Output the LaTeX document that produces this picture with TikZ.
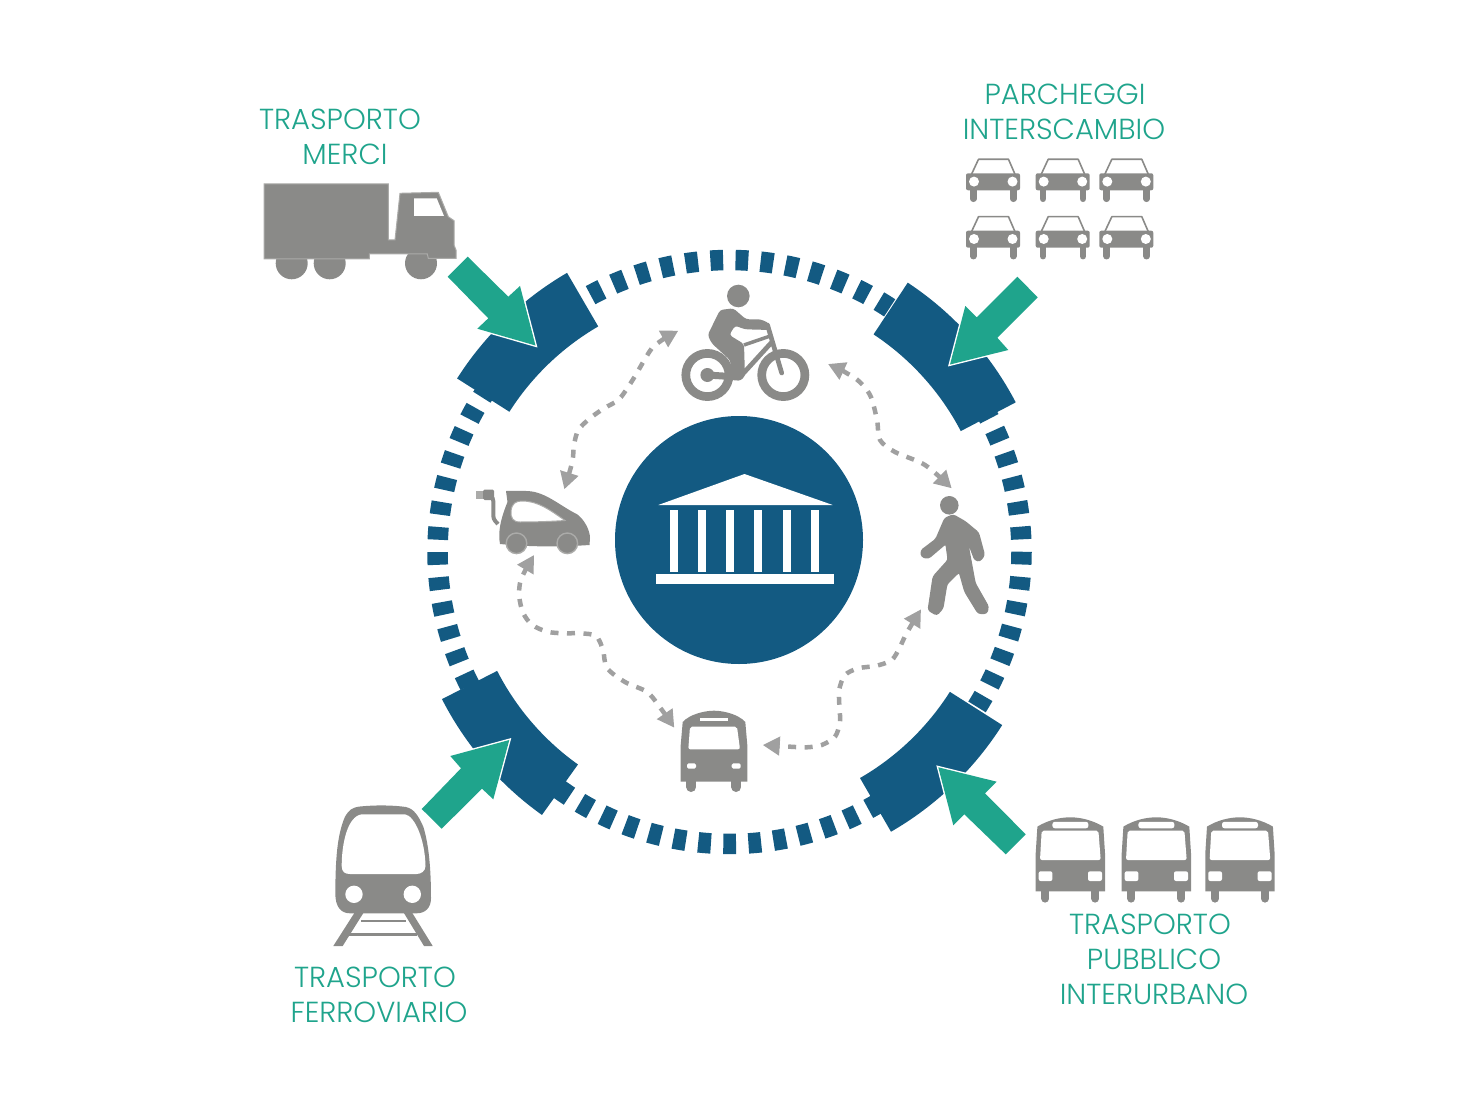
\documentclass[tikz,border=0pt]{standalone}
\usepackage{fontspec}
\setmainfont{Poppins}[UprightFont=* Light]
\usetikzlibrary{arrows.meta}
\definecolor{ringblue}{HTML}{135A82}
\definecolor{arrowteal}{HTML}{1FA48C}
\definecolor{icongray}{HTML}{8A8A88}
\definecolor{iconedge}{HTML}{ABABA9}
\definecolor{linkgray}{HTML}{A0A0A0}
\tikzset{
  modetext/.style={text=arrowteal,font=\fontsize{29}{29}\selectfont,inner sep=0pt},
  inarrow/.style={fill=arrowteal,preaction={draw=white,line width=2.8pt,miter limit=8}},
  swaplink/.style={draw=linkgray,line width=4.5pt,dash pattern=on 8pt off 8.5pt,
    {Triangle[length=17pt,width=18pt]}-{Triangle[length=17pt,width=18pt]}},
  pics/carfront/.style={code={
    \draw[icongray,line width=1.6pt,line join=round] (5.5,16) -- (12.5,1) -- (42.5,1) -- (49,16);
    \fill[icongray,rounded corners=2pt] (0,15) rectangle (54,32);
    \draw[icongray,line width=6.5pt,line cap=round] (7.3,30) -- (7.3,40.5) (47.3,30) -- (47.3,40.5);
    \fill[white] (8,23.3) circle (5) (46.5,23.3) circle (5);
  }},
  pics/coach/.style={code={
    \fill[icongray] (0,74) -- (0,36) -- (1.7,9.3) .. controls (12,3) and (24,0) .. (34.6,0)
      .. controls (45,0) and (57,3) .. (67.6,9.3) -- (69.3,36) -- (69.3,74) -- cycle;
    \draw[icongray,line width=8pt,line cap=round] (9.7,72) -- (9.7,81.3) (59.7,72) -- (59.7,81.3);
    \fill[white,rounded corners=2.5pt] (16.7,4.5) rectangle (52.7,11);
    \fill[white,rounded corners=2pt] (6,13.3) -- (62.7,13.3) -- (65,42.7) -- (4.3,42.7) -- cycle;
    \fill[white,rounded corners=2pt] (3,54) rectangle (16.7,63.7) (52.3,54) rectangle (66.3,63.7);
  }},
}
\begin{document}
\begin{tikzpicture}[x=1pt,y=-1pt]
\useasboundingbox (0,0) rectangle (1476,1110);

% ring
\begin{scope}[shift={(729.5,552)},y=1pt]
\foreach \k in {0,...,72}
  \draw[ringblue,line width=20.5pt] ({\k*4.9315+91.25}:292) arc[start angle={\k*4.9315+91.25},delta angle=2.5,radius=292];
\foreach \a/\b in {120.2/147.5,27.6/56.5,300/327.6,207.1/234.5}
  \fill[ringblue] (\a:261) arc[start angle=\a,end angle=\b,radius=261] -- (\b:323) arc[start angle=\b,end angle=\a,radius=323] -- cycle;
\end{scope}

% centre
\node[circle,fill=ringblue,minimum size=248pt,inner sep=0pt] (cityhall) at (739,540) {};
\fill[white] (658.3,505) -- (744.5,474) -- (832.7,505) -- cycle;
\foreach \x in {670,698,726.3,754.3,782.7,811}
  \fill[white] (\x,510) rectangle (\x+7.8,571.7);
\fill[white] (656,574.3) rectangle (834,584.3);

% block arrows
\fill[inarrow] (467.7,256.7) -- (508.3,296.7) -- (520,286) -- (535.5,345.5) -- (477.3,328.7) -- (488.3,318.3) -- (447.7,276.7) -- cycle;
\fill[inarrow] (1017.3,276.7) -- (1037.7,297.3) -- (997.3,337.7) -- (1008.3,350) -- (950,364.5) -- (965.3,306) -- (976.7,317.3) -- cycle;
\fill[inarrow] (421.7,809) -- (441.7,828.7) -- (482,788.7) -- (493.3,799.3) -- (509.3,740) -- (450.3,756) -- (461,768.3) -- cycle;
\fill[inarrow] (1025.7,834.3) -- (1005.7,854.3) -- (964.3,814.3) -- (953.3,825.3) -- (938.3,767.3) -- (996.7,781.7) -- (985,793.3) -- cycle;

% truck
\fill[icongray] (291.7,263.3) circle (16) (329.7,263.3) circle (16) (421,263.3) circle (16);
\draw[fill=icongray,draw=iconedge,line width=1pt] (264,184) -- (388.3,184) -- (388.3,240) -- (395,240) -- (400,193.3) -- (438.3,192.3) -- (448.3,216.7) -- (454,220.7) -- (454,245) -- (456,250) -- (456,258.3) -- (428.3,258.3) -- (427.3,254) -- (369.3,254) -- (369.3,259) -- (264,259) -- cycle;
\fill[white] (414,198.3) -- (436.7,198.3) -- (444,216) -- (414,216) -- cycle;

% parked cars
\foreach \x in {966,1035.7,1099.3}
  \foreach \y in {158.3,215.7}
    \pic at (\x,\y) {carfront};

% coaches
\foreach \x in {1035.7,1121.7,1205.3}
  \pic at (\x,817.3) {coach};

% train
\fill[icongray] (355,912) -- (364,912) -- (342.7,946) -- (333.3,946) -- cycle;
\fill[icongray] (403.3,912) -- (411.7,912) -- (432.7,946) -- (424,946) -- cycle;
\draw[icongray,line width=1.8pt] (361,920.7) -- (406,920.7);
\draw[icongray,line width=3pt] (349,934.3) -- (417,934.3);
\fill[icongray] (335.3,893.3) .. controls (335.5,860) and (337,835) .. (345,816.7) .. controls (349,810) and (352,807.5) .. (360,806.5) .. controls (375,805) and (392,805) .. (406,807) .. controls (414,809) and (418,815) .. (423.3,826.7) .. controls (429,845) and (431,870) .. (431,898.3) .. controls (431,908) and (425,913.3) .. (416.7,913.3) -- (350,913.3) .. controls (341,913.3) and (335.3,907) .. cycle;
\fill[white] (362,814.3) -- (405,814.3) .. controls (415,816) and (425,840) .. (425.5,866) .. controls (425.5,871) and (421,874) .. (416.7,874) -- (350,874) .. controls (345,874) and (341.7,872) .. (341.7,866) .. controls (341.7,845) and (347,816) .. cycle;
\fill[white] (354,894.3) circle (8.7) (412.3,894.3) circle (8.7);

% bicycle
\draw[icongray,line width=8.7pt] (707.4,375) circle (21.6) (783.3,375) circle (21.6);
\fill[icongray] (738.3,296) circle (11.3) (707.4,375) circle (7);
\fill[icongray,rounded corners=3pt] (720,310) -- (733.3,308.3) -- (746,319.3) -- (760.7,319.3) -- (769.3,323.3) -- (770,330) -- (745,329.3) -- (735,325.7) -- (729.3,335) -- (744,344) -- (745,376.7) -- (738.3,381.7) -- (732.7,376.7) -- (730,360) -- (711.7,343.3) -- (707.7,335) -- cycle;
\draw[icongray,line width=4.7pt,line cap=round] (767.5,325) -- (781.7,373) (771,343) -- (740,377);
\draw[icongray,line width=3.5pt] (744,345) -- (771.7,335.5);
\draw[icongray,line width=7pt] (707.4,375) -- (738,377);

% walker
\fill[icongray] (949.3,505.3) circle (9.3);
\filldraw[icongray,line width=1.5pt,line join=round,rounded corners=2.5pt] (945,518.3) -- (953.3,515) -- (965,521.7) -- (978.3,532.7) -- (984.3,555) -- (980,561) -- (975,560) -- (966.7,538.3) -- (975,583.3) -- (988.3,606.7) -- (986.7,613.3) -- (978.3,613.3) -- (965,591.7) -- (959.3,571.7) -- (946.7,584) -- (942.7,608.3) -- (936.7,615) -- (928.3,610) -- (933.3,576.7) -- (948.3,560) -- (946,543.3) -- (928.3,558.3) -- (921.7,556.7) -- (921,550.7) -- (936,539.3) -- cycle;

% electric car
\draw[icongray,line width=4pt,rounded corners=3pt] (498,524) -- (493.3,519) -- (493.3,498) -- (488,494);
\fill[iconedge] (475.5,491) rectangle (484,498.5);
\fill[icongray,rounded corners=1.5pt] (483,489.5) rectangle (494,500);
\fill[icongray] (506,491) .. controls (515,491) and (525,490.5) .. (532,491.5) .. controls (548,494) and (562,507) .. (576.7,514) .. controls (584,519) and (590,530) .. (590,538) -- (589.5,545) .. controls (560,547) and (530,547) .. (500,544) .. controls (497,530) and (503,513) .. (507.5,502) -- cycle;
\draw[fill=icongray,draw=iconedge,line width=1.4pt] (516.5,543.3) circle (10.3) (567.3,543.3) circle (10.3);
\draw[fill=white,draw=iconedge,line width=1pt] (511,511) .. controls (512,503) and (516,501) .. (522,501) .. controls (538,501) and (550,510) .. (565,520.5) .. controls (550,521.5) and (535,522) .. (520,522) .. controls (513,522) and (510.5,518) .. cycle;

% bus
\fill[icongray] (680.7,781.7) -- (680.7,745) -- (682.7,722) .. controls (690,714) and (705,710.7) .. (714,710.7) .. controls (723,710.7) and (738,714) .. (745.3,722) -- (747.3,745) -- (747.3,781.7) -- cycle;
\draw[icongray,line width=10pt,line cap=round] (691.3,780) -- (691.3,787) (736.3,780) -- (736.3,787);
\fill[white] (700,718.3) rectangle (727.7,720.5);
\fill[white,rounded corners=2pt] (690,726.7) -- (737,726.7) -- (740,749.3) -- (688.3,749.3) -- cycle;
\fill[white,rounded corners=1.5pt] (687,763.3) rectangle (696,768.7) (731.7,763.3) rectangle (740.7,768.7);

% link ends
\coordinate (bikeW) at (678.3,330.7);
\coordinate (bikeE) at (828,364);
\coordinate (walkN) at (951.7,488.3);
\coordinate (walkS) at (921,609.3);
\coordinate (busE) at (762.7,745);
\coordinate (busW) at (674.3,727.7);
\coordinate (carS) at (534,555);
\coordinate (carN) at (564.3,489.3);

\draw[swaplink] plot[smooth] coordinates {(bikeW) (655,345) (645,359) (636.7,373.3) (628.3,386.7) (618.3,400) (604,408.3) (590,418.3) (578.3,430) (574,445) (572.3,461.7) (carN)};
\draw[swaplink] plot[smooth] coordinates {(bikeE) (855,378) (870,395) (877,420) (880,440) (895,452) (925,465) (walkN)};
\draw[swaplink] plot[smooth] coordinates {(walkS) (906.7,633) (899.3,648.3) (891.7,660) (876.7,665.7) (858.3,668.3) (845,675) (839.3,689.3) (839.3,705) (840,721.7) (835,736.7) (821.7,745) (806.7,747.3) (790,746.7) (busE)};
\draw[swaplink] plot[smooth] coordinates {(busW) (658.3,705) (646.7,691.7) (625,682) (607,668) (603,650) (596,636) (580,633.3) (563.3,633.3) (547.3,631.7) (532.3,625) (523.3,613.3) (519.3,596.7) (521,579.3) (carS)};

% labels
\node[modetext] (merciA) at (340,119) {TRASPORTO};
\node[modetext] (merciB) at (345,154) {MERCI};
\node[modetext] (parkA) at (1065,94) {PARCHEGGI};
\node[modetext] (parkB) at (1064,129) {INTERSCAMBIO};
\node[modetext] (railA) at (375,977) {TRASPORTO};
\node[modetext] (railB) at (379,1012) {FERROVIARIO};
\node[modetext] (coachA) at (1150,924) {TRASPORTO};
\node[modetext] (coachB) at (1154,959) {PUBBLICO};
\node[modetext] (coachC) at (1154,994) {INTERURBANO};
\end{tikzpicture}
\end{document}
